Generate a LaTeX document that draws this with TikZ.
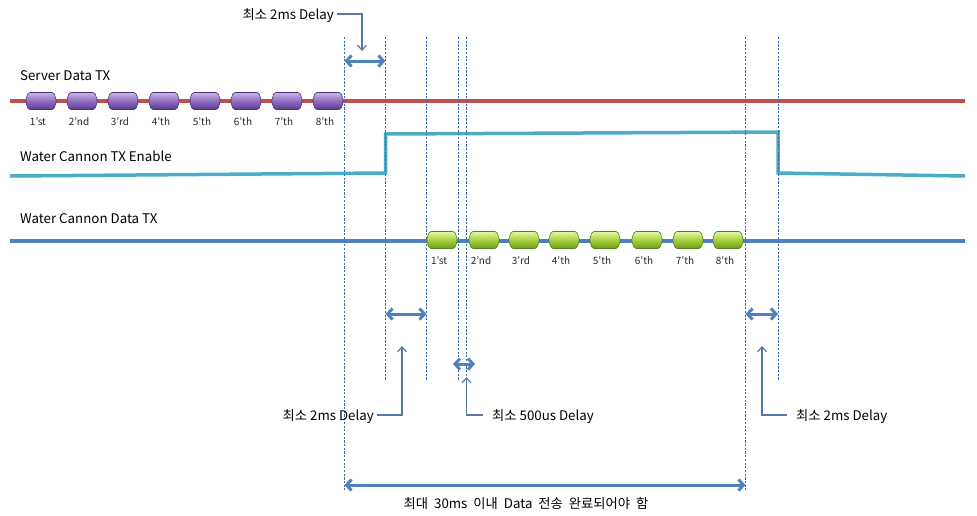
\documentclass[tikz,border=0pt]{standalone}
\usepackage{fontspec}
\setmainfont{Noto Sans CJK KR}
\usetikzlibrary{arrows.meta,shapes.symbols}
\definecolor{redl}{HTML}{C0504D}
\definecolor{cyanl}{HTML}{4BACC6}
\definecolor{bluel}{HTML}{4F81BD}
\definecolor{dashc}{HTML}{3C68A6}
\definecolor{callc}{HTML}{5878A8}
\definecolor{pt}{HTML}{C9B8E4}
\definecolor{pm}{HTML}{8E6CC2}
\definecolor{pb}{HTML}{5A3C8C}
\definecolor{pd}{HTML}{4B3278}
\definecolor{gt}{HTML}{E4F7A6}
\definecolor{gm}{HTML}{A6D03C}
\definecolor{gb}{HTML}{6C9C1E}
\definecolor{gd}{HTML}{5A8218}
\tikzset{
  lbl/.style={font=\fontsize{13.3}{15}\selectfont, inner sep=0pt, text=black},
  plbl/.style={font=\fontsize{10}{11}\selectfont, inner sep=0pt, text=black!85},
  pkt/.style={signal, signal to=east and west, signal pointer angle=145,
    minimum width=31pt, minimum height=17pt, inner sep=0pt, rounded corners=1.8pt, line width=0.6pt},
  purp/.style={pkt, draw=pd, top color=pt, bottom color=pb, middle color=pm},
  grn/.style={pkt, draw=gd, top color=gt, bottom color=gb, middle color=gm},
  dsh/.style={dashc, line width=0.9pt, dash pattern=on 2.2pt off 1.5pt},
  darr/.style={bluel, line width=3pt, {Straight Barb[length=5pt,width=11pt]}-{Straight Barb[length=5pt,width=11pt]}},
  callout/.style={callc, line width=1.2pt, -{Straight Barb[length=5pt,width=9pt]}},
}
\begin{document}
\begin{tikzpicture}[x=1pt,y=-1pt]
\path[use as bounding box] (0,0) rectangle (977,515);
% signal lines
\draw[redl, line width=4pt] (10,101) -- (965,101);
\draw[cyanl, line width=3.5pt] (10,176) -- (385.5,173) -- (385.5,134) -- (778,132) -- (778,173) -- (965,176);
\draw[bluel, line width=4pt] (10,241) -- (965,241);
% labels
\node[lbl, anchor=west] (s) at (20,76) {Server Data TX};
\node[lbl, anchor=west] (e) at (20,156) {Water Cannon TX Enable};
\node[lbl, anchor=west] (w) at (20,219) {Water Cannon Data TX};
% dashed lines
\coordinate (a1) at (344.5,37); \coordinate (b1) at (344.5,490);
\coordinate (a2) at (385.5,37); \coordinate (b2) at (385.5,380);
\coordinate (a3) at (426.5,37); \coordinate (b3) at (426.5,380);
\coordinate (a4) at (458.5,37); \coordinate (b4) at (458.5,380);
\coordinate (a5) at (466.5,37); \coordinate (b5) at (466.5,377);
\coordinate (a6) at (745.5,37); \coordinate (b6) at (745.5,490);
\coordinate (a7) at (778,37);   \coordinate (b7) at (778,380);
\foreach \i in {1,...,7} \draw[dsh] (a\i) -- (b\i);
% packets
\foreach \i/\t in {0/1'st,1/2'nd,2/3'rd,3/4'th,4/5'th,5/6'th,6/7'th,7/8'th} {
  \node[purp] (p\i) at (41+41*\i,101) {};
  \node[plbl] (pl\i) at (38+41*\i,122) {\t};
}
\foreach \x/\t [count=\i] in {442/1'st,484/2'nd,524/3'rd,564/4'th,605/5'th,647/6'th,688/7'th,728/8'th} {
  \node[grn] (g\i) at (\x,240) {};
  \node[plbl] (gl\i) at (\x-3,261) {\t};
}
% double arrows
\coordinate (d1l) at (344.5,61); \coordinate (d1r) at (385.5,61);
\coordinate (d2l) at (385.5,314); \coordinate (d2r) at (426.5,314);
\coordinate (d3l) at (453,364); \coordinate (d3r) at (475,364);
\coordinate (d4l) at (745.5,314); \coordinate (d4r) at (778,314);
\coordinate (d5l) at (344.5,485); \coordinate (d5r) at (745.5,485);
\foreach \i in {1,...,5} \draw[darr] (d\i l) -- (d\i r);
% callouts
\node[lbl, anchor=east] (t1) at (334,16) {최소 2ms Delay};
\coordinate (c1) at (362,51);
\draw[callout] ([xshift=3pt,yshift=2pt]t1.east) -| (c1);
\node[lbl, anchor=east] (t2) at (374,417) {최소 2ms Delay};
\coordinate (c2) at (402,346);
\draw[callout] ([xshift=3pt,yshift=2pt]t2.east) -| (c2);
\node[lbl, anchor=west] (t3) at (492,417) {최소 500us Delay};
\coordinate (c3) at (466.5,377);
\draw[callout] ([xshift=-9pt,yshift=2pt]t3.west) -| (c3);
\node[lbl, anchor=west] (t4) at (796,417) {최소 2ms Delay};
\coordinate (c4) at (762,346);
\draw[callout] ([xshift=-9pt,yshift=2pt]t4.west) -| (c4);
\node[lbl] (t5) at (526,503) {최대\hspace{3pt} 30ms\hspace{3pt} 이내\hspace{3pt} Data\hspace{3pt} 전송\hspace{3pt} 완료되어야\hspace{3pt} 함};
\end{tikzpicture}
\end{document}
